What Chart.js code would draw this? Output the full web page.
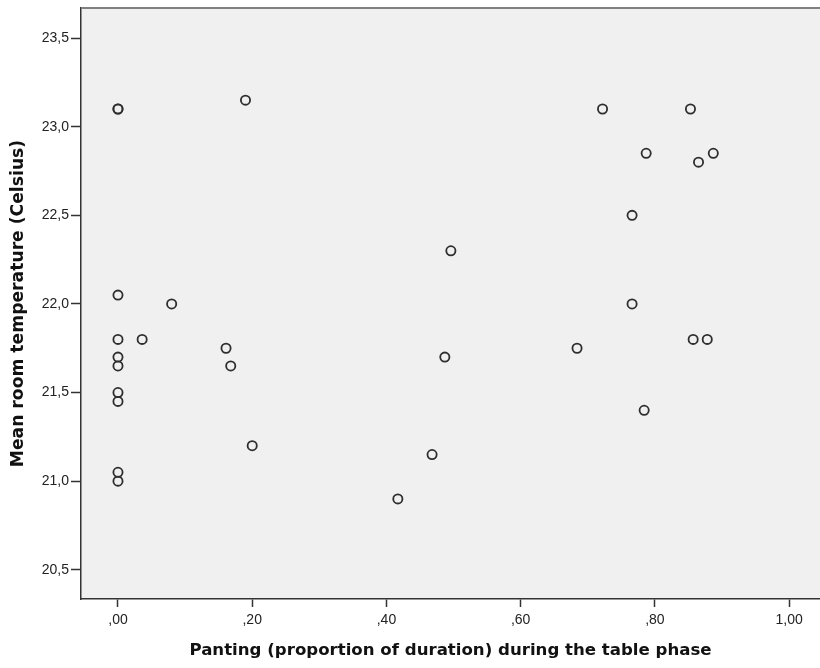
<!DOCTYPE html>
<html>
<head>
<meta charset="utf-8">
<script src="https://cdn.jsdelivr.net/npm/chart.js@4/dist/chart.umd.min.js"></script>
<style>
  html, body { margin: 0; padding: 0; background: #ffffff; }
  #wrap { width: 820px; height: 668px; }
</style>
</head>
<body>
<div id="wrap"><canvas id="scatter" width="820" height="668"></canvas></div>
<script>
// Panting proportion (x) vs mean room temperature (y), one entry per animal
var panting = [
  0, 0, 0.190, 0.722, 0.853,
  0.787, 0.865, 0.887, 0.766, 0.496,
  0, 0.080, 0.766, 0, 0.036,
  0.857, 0.878, 0.161, 0.684, 0,
  0.487, 0, 0.168, 0, 0,
  0.784, 0.200, 0.468, 0, 0,
  0.417
];
var roomTemp = [
  23.10, 23.10, 23.15, 23.10, 23.10,
  22.85, 22.80, 22.85, 22.50, 22.30,
  22.05, 22.00, 22.00, 21.80, 21.80,
  21.80, 21.80, 21.75, 21.75, 21.70,
  21.70, 21.65, 21.65, 21.50, 21.45,
  21.40, 21.20, 21.15, 21.05, 21.00,
  20.90
];

var xTicks = [0, 0.2, 0.4, 0.6, 0.8, 1.0];
var yTicks = [20.5, 21.0, 21.5, 22.0, 22.5, 23.0, 23.5];

var points = panting.map(function (x, i) { return {x: x, y: roomTemp[i]}; });

// comma decimal separator, no leading zero below 1
function fmt(v, digits) {
  var s = v.toFixed(digits).replace('.', ',');
  if (s.indexOf('0,') === 0) s = s.substring(1);
  return s;
}

// grey plot background plus the top frame line
var plotFrame = {
  id: 'plotFrame',
  beforeDraw: function (chart) {
    var a = chart.chartArea, ctx = chart.ctx;
    ctx.save();
    ctx.fillStyle = '#f0f0f0';
    ctx.fillRect(a.left, a.top, a.right - a.left, a.bottom - a.top);
    ctx.restore();
  },
  afterDraw: function (chart) {
    var a = chart.chartArea, ctx = chart.ctx;
    ctx.save();
    ctx.strokeStyle = '#808080';
    ctx.lineWidth = 2;
    ctx.beginPath();
    ctx.moveTo(a.left, a.top);
    ctx.lineTo(a.right, a.top);
    ctx.stroke();
    ctx.restore();
  }
};

var tickFont = {family: '"Liberation Sans", Arial, sans-serif', size: 14};

var config = {
  type: 'scatter',
  data: {
    datasets: [{
      data: points,
      pointStyle: 'circle',
      pointRadius: 4.6,
      pointHoverRadius: 4.6,
      pointBorderWidth: 1.8,
      pointBorderColor: '#2e2e2e',
      pointBackgroundColor: 'rgba(0,0,0,0)'
    }]
  },
  options: {
    responsive: false,
    animation: false,
    layout: {autoPadding: false, padding: {top: 8, right: 0, bottom: 0, left: 0}},
    plugins: {legend: {display: false}, tooltip: {enabled: false}},
    scales: {
      x: {
        type: 'linear',
        min: -0.0551,
        max: 1.046,
        afterBuildTicks: function (scale) {
          scale.ticks = xTicks.map(function (v) { return {value: v}; });
        },
        afterFit: function (scale) {
          scale.height = 69;
          scale.paddingLeft = 0;
          scale.paddingRight = 0;
        },
        ticks: {
          color: '#222222',
          font: tickFont,
          padding: 5,
          maxRotation: 0,
          callback: function (v) { return fmt(v, 2); }
        },
        grid: {drawOnChartArea: false, drawTicks: true, tickLength: 8, tickColor: '#333333', tickWidth: 1.5},
        border: {display: true, color: '#333333', width: 1.5},
        title: {
          display: true,
          text: 'Panting (proportion of duration) during the table phase',
          color: '#111111',
          font: {family: '"DejaVu Sans", Verdana, sans-serif', size: 16.6, weight: 'bold'},
          padding: {top: 0, bottom: 7}
        }
      },
      y: {
        type: 'linear',
        min: 20.335,
        max: 23.67,
        afterBuildTicks: function (scale) {
          scale.ticks = yTicks.map(function (v) { return {value: v}; });
        },
        afterFit: function (scale) {
          scale.width = 81;
          scale.paddingTop = 0;
          scale.paddingBottom = 0;
        },
        ticks: {
          color: '#222222',
          font: tickFont,
          padding: 2,
          callback: function (v) { return fmt(v, 1); }
        },
        grid: {drawOnChartArea: false, drawTicks: true, tickLength: 10, tickColor: '#333333', tickWidth: 1.5},
        border: {display: true, color: '#333333', width: 1.5},
        title: {
          display: true,
          text: 'Mean room temperature (Celsius)',
          color: '#111111',
          font: {family: '"DejaVu Sans", Verdana, sans-serif', size: 17.2, weight: 'bold'},
          padding: {top: 8, bottom: 0}
        }
      }
    }
  },
  plugins: [plotFrame]
};

var ctx = document.getElementById('scatter').getContext('2d');
var scatterChart = new Chart(ctx, config);
</script>
</body>
</html>
